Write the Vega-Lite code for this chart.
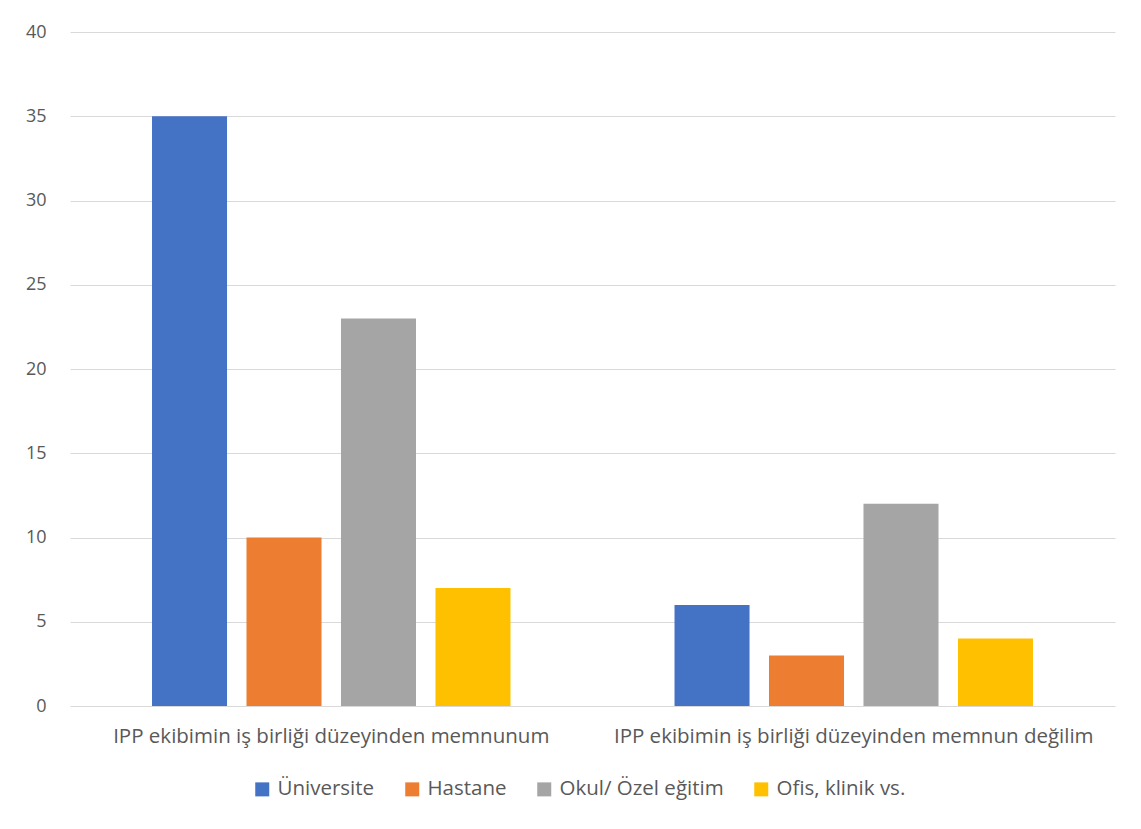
{
  "$schema": "https://vega.github.io/schema/vega-lite/v6.json",
  "width": 1045,
  "height": 674,
  "autosize": {"type": "none"},
  "padding": {"left": 70, "top": 32, "right": 26, "bottom": 123},
  "background": "white",
  "config": {
    "font": "Open Sans",
    "view": {"stroke": null}
  },
  "data": {
    "values": [
      {"kategori": "IPP ekibimin iş birliği düzeyinden memnunum", "kurum": "Üniversite", "deger": 35},
      {"kategori": "IPP ekibimin iş birliği düzeyinden memnunum", "kurum": "Hastane", "deger": 10},
      {"kategori": "IPP ekibimin iş birliği düzeyinden memnunum", "kurum": "Okul/ Özel eğitim", "deger": 23},
      {"kategori": "IPP ekibimin iş birliği düzeyinden memnunum", "kurum": "Ofis, klinik vs.", "deger": 7},
      {"kategori": "IPP ekibimin iş birliği düzeyinden memnun değilim", "kurum": "Üniversite", "deger": 6},
      {"kategori": "IPP ekibimin iş birliği düzeyinden memnun değilim", "kurum": "Hastane", "deger": 3},
      {"kategori": "IPP ekibimin iş birliği düzeyinden memnun değilim", "kurum": "Okul/ Özel eğitim", "deger": 12},
      {"kategori": "IPP ekibimin iş birliği düzeyinden memnun değilim", "kurum": "Ofis, klinik vs.", "deger": 4}
    ]
  },
  "mark": {"type": "bar"},
  "encoding": {
    "x": {
      "field": "kategori",
      "type": "nominal",
      "sort": null,
      "scale": {"paddingInner": 0, "paddingOuter": 0},
      "axis": {
        "title": null,
        "labelAngle": 0,
        "labelFontSize": 20.5,
        "labelColor": "#595959",
        "labelPadding": 20,
        "labelLimit": 0,
        "ticks": false,
        "domain": false
      }
    },
    "xOffset": {
      "field": "kurum",
      "type": "nominal",
      "sort": ["Üniversite", "Hastane", "Okul/ Özel eğitim", "Ofis, klinik vs."],
      "scale": {"paddingInner": 0.206, "paddingOuter": 0.868}
    },
    "y": {
      "field": "deger",
      "type": "quantitative",
      "scale": {"domain": [0, 40]},
      "axis": {
        "title": null,
        "values": [0, 5, 10, 15, 20, 25, 30, 35, 40],
        "labelFontSize": 18,
        "labelColor": "#595959",
        "labelPadding": 24,
        "ticks": false,
        "domain": false,
        "gridColor": "#d9d9d9",
        "gridWidth": 1
      }
    },
    "color": {
      "field": "kurum",
      "type": "nominal",
      "sort": ["Üniversite", "Hastane", "Okul/ Özel eğitim", "Ofis, klinik vs."],
      "scale": {
        "domain": ["Üniversite", "Hastane", "Okul/ Özel eğitim", "Ofis, klinik vs."],
        "range": ["#4472C4", "#ED7D31", "#A5A5A5", "#FFC000"]
      },
      "legend": {
        "title": null,
        "orient": "none",
        "direction": "horizontal",
        "legendX": 182,
        "legendY": 747,
        "symbolType": "square",
        "symbolSize": 196,
        "symbolStrokeWidth": 0,
        "labelFontSize": 20.5,
        "labelColor": "#595959",
        "columnPadding": 27,
        "labelOffset": 5,
        "labelLimit": 0
      }
    }
  }
}
